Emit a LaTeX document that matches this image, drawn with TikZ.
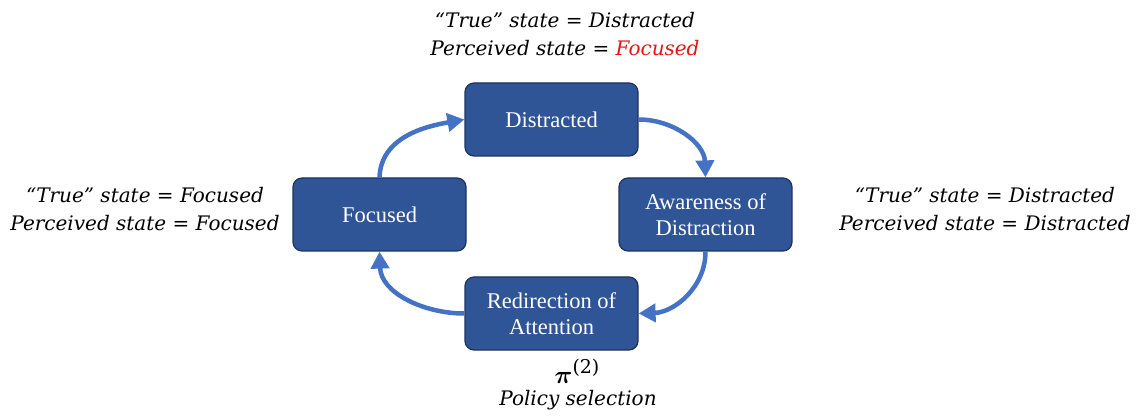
\documentclass[tikz,border=0pt]{standalone}
\usepackage{amsmath,amssymb}
\usepackage{bm}
\usepackage{fontspec}
\setmainfont{Liberation Serif}
\newfontfamily\labelfont{DejaVu Serif}
\usetikzlibrary{positioning,arrows.meta}
\definecolor{boxColor}{RGB}{47,85,151}
\definecolor{boxLine}{RGB}{30,50,95}
\definecolor{arrowColor}{RGB}{68,114,196}
\definecolor{wrongColor}{RGB}{230,20,20}

\begin{document}
\begin{tikzpicture}[
      x=1pt,y=1pt,
      state/.style={rectangle,rounded corners=9pt,draw=boxLine,line width=1.2pt,fill=boxColor,
        text=white,minimum width=173pt,minimum height=73pt,align=center,
        font=\fontsize{22.5}{26}\selectfont},
      info/.style={align=center,font=\labelfont\itshape\fontsize{20}{28}\selectfont},
      loop/.style={-{Triangle[length=17pt,width=18pt]},line width=4.5pt,draw=arrowColor}
    ]
    \useasboundingbox (0,0) rectangle (1137,415);
    \node[state] (distracted) at (551.5,295.5) {Distracted};
    \node[state] (focused) at (379.5,200.5) {Focused};
    \node[state] (aware) at (705.5,200.5) {Awareness of\\Distraction};
    \node[state] (redirect) at (551.5,101.5) {Redirection of\\Attention};
    \draw[loop] (focused.north) to[out=88,in=190] (distracted.west);
    \draw[loop] (distracted.east) to[out=0,in=92] (aware.north);
    \draw[loop] (aware.south) to[out=-90,in=2] (redirect.east);
    \draw[loop] (redirect.west) to[out=180,in=-88] (focused.south);
    \node[info] (topinfo) at (565,381) {“True” state = Distracted\\Perceived state = \textcolor{wrongColor}{Focused}};
    \node[info] (leftinfo) at (145,205.5) {“True” state = Focused\\Perceived state = Focused};
    \node[info] (rightinfo) at (985,205.5) {“True” state = Distracted\\Perceived state = Distracted};
    \node (policy) at (577,44) {\fontsize{36}{38}\selectfont$\bm{\pi}$\raisebox{10pt}{\labelfont\fontsize{19}{19}\selectfont(2)}};
    \node[info] (policytext) at (578,15) {Policy selection};
  \end{tikzpicture}
\end{document}
